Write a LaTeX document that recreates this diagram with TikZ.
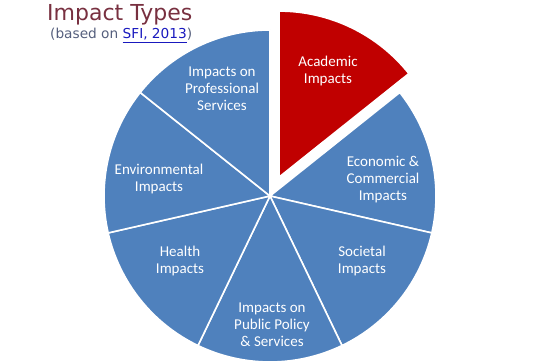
\documentclass[tikz,border=0pt]{standalone}
\usepackage{fontspec}
\setmainfont{Carlito}
\newfontfamily\headfont{DejaVu Sans}
\usetikzlibrary{
  positioning,
  calc,         % Offset of the pulled-out slice
}
\definecolor{sliceblue}{RGB}{79,129,189}
\definecolor{slicered}{RGB}{192,0,0}
\definecolor{titlered}{RGB}{120,48,64}
\definecolor{subgray}{RGB}{85,95,125}
\definecolor{linkblue}{RGB}{25,25,190}
\def\myradius{166}
\def\myslice{51.4286}
\def\mypull{21}
\tikzset{
  x=1pt,
  y=1pt,
  my slice/.style={
    fill=sliceblue,
    draw=white,
    line width=1.6pt,
    line join=round
  },
  my label/.style={
    text=white,
    align=center,
    font=\fontsize{15}{17}\selectfont
  },
  my title/.style={
    text=titlered,
    inner sep=0pt,
    font=\headfont\fontsize{22}{24}\selectfont
  },
  my source/.style={
    text=subgray,
    inner sep=0pt,
    font=\headfont\fontsize{13.7}{16}\selectfont
  }
}

\begin{document}
\begin{tikzpicture}
\useasboundingbox (0,0) rectangle (550,363);
\coordinate (pie) at (270,167);
% the six slices in place
\foreach \i in {1,...,6} {
  \pgfmathsetmacro\a{90-\i*\myslice}
  \pgfmathsetmacro\b{90-(\i+1)*\myslice}
  \filldraw[my slice] (pie) -- ($(pie)+(\a:\myradius)$)
    arc[start angle=\a, end angle=\b, radius=\myradius] -- cycle;
}
% the pulled-out slice
\pgfmathsetmacro\c{90-\myslice/2}
\coordinate (academic) at ($(pie)+(\c:\mypull)$);
\filldraw[my slice,fill=slicered] (academic) -- ($(academic)+(90:\myradius)$)
  arc[start angle=90, end angle=90-\myslice, radius=\myradius] -- cycle;
\node[my label] (acad)  at (328,292) {Academic\\Impacts};
\node[my label] (econ)  at (383,183) {Economic \&\\Commercial\\Impacts};
\node[my label] (soc)   at (362,102) {Societal\\Impacts};
\node[my label] (pub)   at (272,38)  {Impacts on\\Public Policy\\\& Services};
\node[my label] (heal)  at (180,102) {Health\\Impacts};
\node[my label] (env)   at (159,184) {Environmental\\Impacts};
\node[my label] (prof)  at (222,274) {Impacts on\\Professional\\Services};
\node[my title,anchor=base west]  (title)  at (47,342) {Impact Types};
\node[my source,anchor=base west] (source) at (50,324)
  {(based on \textcolor{linkblue}{\underline{SFI, 2013}})};
\end{tikzpicture}
\end{document}
